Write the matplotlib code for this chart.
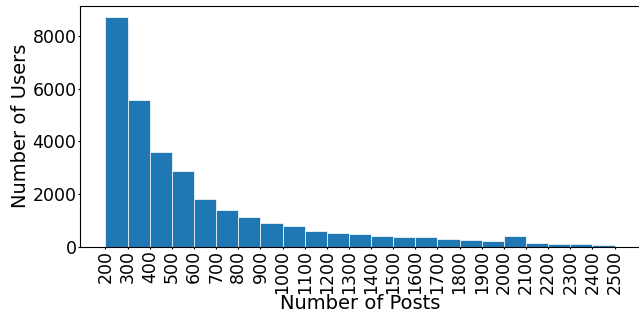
import matplotlib
matplotlib.use('Agg')
import matplotlib.pyplot as plt
import numpy as np

# histogram bins: left edges of 100-post bins
bin_edges = list(range(200, 2600, 100))
user_counts = [8710, 5570, 3590, 2880, 1810, 1390, 1130, 900, 785, 595,
               530, 480, 405, 370, 370, 295, 255, 215, 410, 140,
               105, 105, 65]

fig = plt.figure(figsize=(6.39, 3.14), dpi=100)
ax = fig.add_axes([80 / 639, 1 - 246.5 / 314, 560 / 639, 240.5 / 314])

ax.bar(bin_edges[:-1], user_counts, width=100, align='edge',
       color='#1f77b4', edgecolor='white', linewidth=0.5)

ax.set_xlim(85, 2615)
ax.set_ylim(0, 9140)
ax.set_xticks(bin_edges)
ax.set_xticklabels([str(b) for b in bin_edges], rotation=90)
ax.set_yticks([0, 2000, 4000, 6000, 8000])
ax.tick_params(labelsize=12.5, length=1.5, pad=1)
ax.set_xlabel('Number of Posts', fontsize=14, labelpad=0)
ax.set_ylabel('Number of Users', fontsize=14, labelpad=1.5)

fig.savefig('out.png', dpi=100)
